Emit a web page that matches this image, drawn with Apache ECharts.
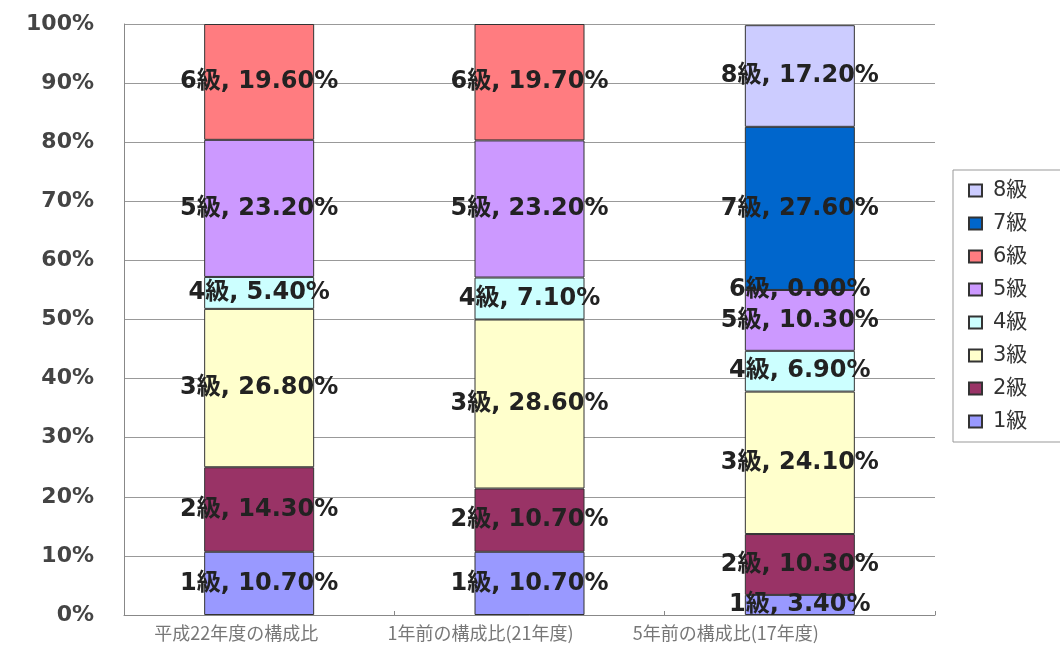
<!DOCTYPE html>
<html>
<head>
<meta charset="utf-8">
<script src="https://cdn.jsdelivr.net/npm/echarts@6/dist/echarts.min.js"></script>
<style>html,body{margin:0;padding:0;background:#fff}#c{width:1060px;height:653px}</style>
</head>
<body>
<div id="c"></div>
<script>
const categories = ['平成22年度の構成比', '1年前の構成比(21年度)', '5年前の構成比(17年度)'];
const grades = ['1級', '2級', '3級', '4級', '5級', '6級', '7級', '8級'];
const g1 = [10.7, 10.7, 3.4];
const g2 = [14.3, 10.7, 10.3];
const g3 = [26.8, 28.6, 24.1];
const g4 = [5.4, 7.1, 6.9];
const g5 = [23.2, 23.2, 10.3];
const g6 = [19.6, 19.7, 0.0];
const g7 = [null, null, 27.6];
const g8 = [null, null, 17.2];
const yTicks = [0, 10, 20, 30, 40, 50, 60, 70, 80, 90, 100];
const colors = ['#9999FF', '#993366', '#FFFFCC', '#CCFFFF', '#CC99FF', '#FF7C80', '#0066CC', '#CCCCFF'];
const seriesData = [g1, g2, g3, g4, g5, g6, g7, g8];

const catLabelStyle = {fontFamily: 'Noto Sans CJK JP', fontSize: 18, color: '#777'};

const chart = echarts.init(document.getElementById('c'), null, {renderer: 'canvas'});
chart.setOption({
  animation: false,
  backgroundColor: '#ffffff',
  grid: {left: 124, right: 125, top: 24, bottom: 38, containLabel: false},
  legend: {
    orient: 'vertical',
    left: 953,
    top: 170,
    data: grades.slice().reverse(),
    icon: 'rect',
    itemWidth: 13,
    itemHeight: 12,
    itemGap: 12,
    padding: [10, 80, 10, 15],
    borderColor: '#999',
    borderWidth: 1,
    textStyle: {fontFamily: 'DejaVu Sans, Noto Sans CJK JP', fontSize: 21, color: '#333', lineHeight: 21, padding: [0, 0, 0, 6]}
  },
  xAxis: {
    type: 'category',
    data: categories,
    axisLine: {lineStyle: {color: '#888', width: 1}},
    axisTick: {show: true, inside: true, length: 4, lineStyle: {color: '#888'}},
    axisLabel: {
      margin: 9,
      formatter: (v, i) => '{l' + i + '|' + v + '}',
      rich: {
        l0: Object.assign({padding: [0, 46, 0, 0]}, catLabelStyle),
        l1: Object.assign({padding: [0, 98, 0, 0]}, catLabelStyle),
        l2: Object.assign({padding: [0, 148, 0, 0]}, catLabelStyle)
      }
    }
  },
  yAxis: {
    type: 'value',
    min: yTicks[0],
    max: yTicks[yTicks.length - 1],
    interval: 10,
    axisLine: {show: true, lineStyle: {color: '#888', width: 1}},
    axisTick: {show: false},
    splitLine: {lineStyle: {color: '#999', width: 1}},
    axisLabel: {formatter: '{value}%', fontFamily: 'DejaVu Sans', fontWeight: 'bold', fontSize: 22, color: '#444', margin: 30}
  },
  series: grades.map((g, i) => ({
    name: g,
    type: 'bar',
    stack: 'total',
    barWidth: 110,
    data: seriesData[i],
    itemStyle: {color: colors[i], borderColor: '#333', borderWidth: 1},
    label: {
      show: true,
      position: 'inside',
      fontFamily: 'DejaVu Sans, Noto Sans CJK JP',
      fontWeight: 'bold',
      fontSize: 24,
      color: '#222',
      formatter: p => (p.value == null ? '' : p.seriesName + ', ' + p.value.toFixed(2) + '%')
    }
  }))
});
</script>
</body>
</html>
